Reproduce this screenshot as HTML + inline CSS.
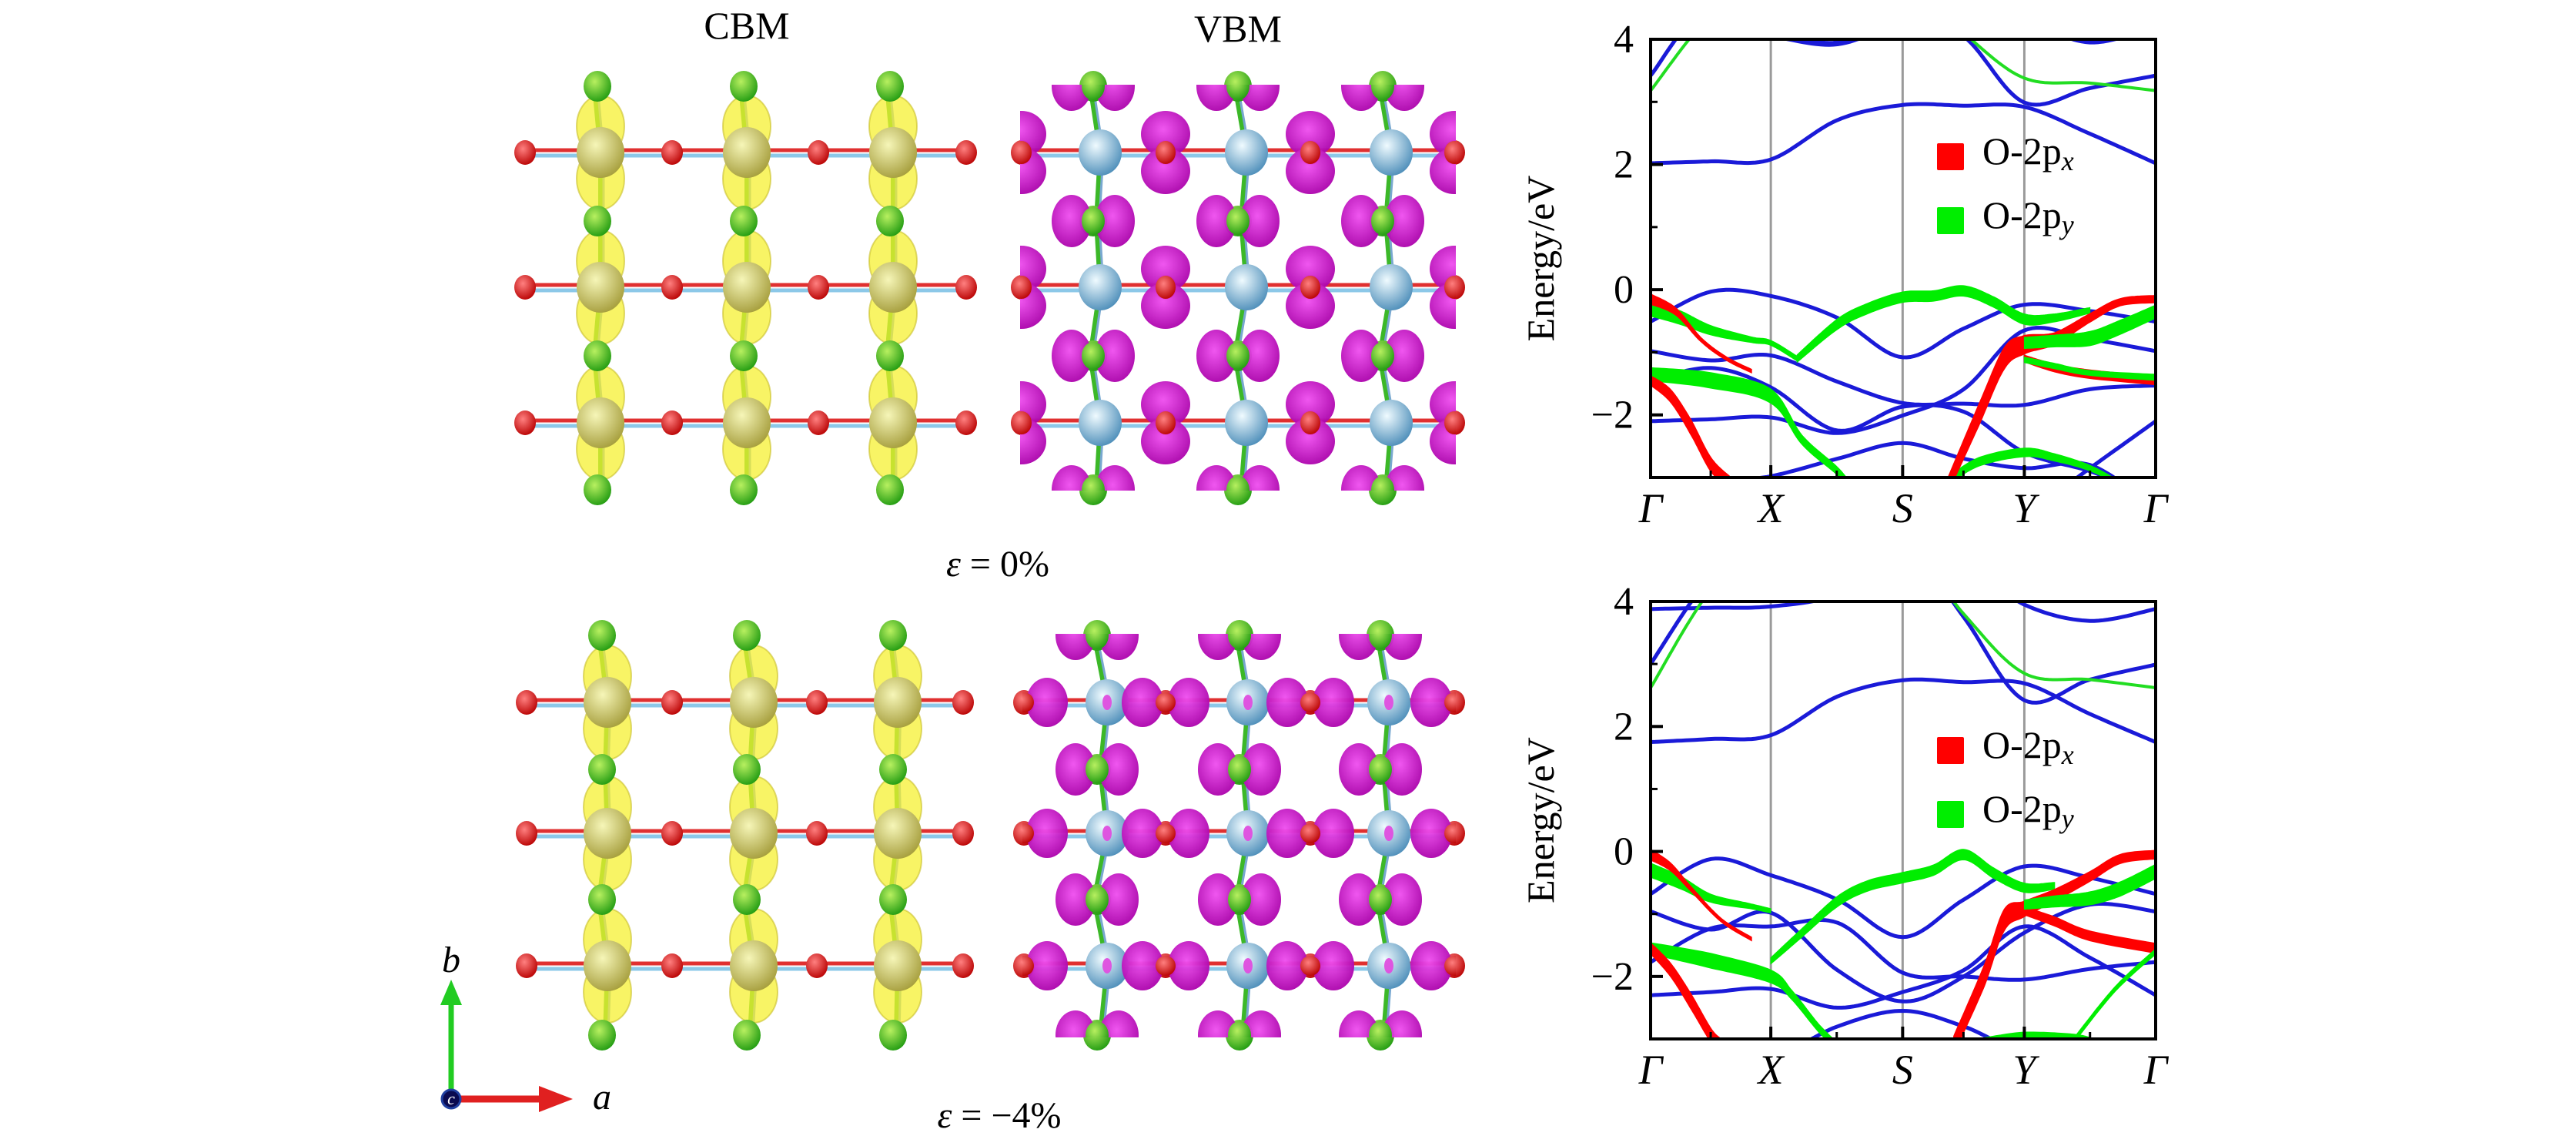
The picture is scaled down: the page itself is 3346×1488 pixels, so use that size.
<!DOCTYPE html>
<html><head><meta charset="utf-8"><title>Band structures and charge densities</title>
<style>
html,body{margin:0;padding:0;background:#fff;}
body{width:3346px;height:1488px;overflow:hidden;}
svg{display:block;}
svg text{font-family:"Liberation Serif","DejaVu Serif",serif !important;fill:#000;}
</style></head>
<body>
<svg id="fig" width="3346" height="1488" viewBox="0 0 3346 1488" xmlns="http://www.w3.org/2000/svg" font-family="Liberation Serif, DejaVu Serif, serif">
<defs>
<radialGradient id="gY" cx="40%" cy="35%" r="70%"><stop offset="0" stop-color="#f6f6b8"/><stop offset="1" stop-color="#a49c3a"/></radialGradient>
<radialGradient id="gG" cx="40%" cy="35%" r="70%"><stop offset="0" stop-color="#b8f060"/><stop offset="1" stop-color="#1e9a10"/></radialGradient>
<radialGradient id="gR" cx="40%" cy="35%" r="70%"><stop offset="0" stop-color="#ff8080"/><stop offset="1" stop-color="#b80000"/></radialGradient>
<radialGradient id="gB" cx="40%" cy="35%" r="70%"><stop offset="0" stop-color="#f0fbff"/><stop offset="1" stop-color="#4a8cb8"/></radialGradient>
<radialGradient id="gM" cx="45%" cy="40%" r="65%"><stop offset="0" stop-color="#f050f0"/><stop offset="1" stop-color="#a800a8"/></radialGradient>
<clipPath id="clipVT"><rect x="1325" y="110" width="566" height="527"/></clipPath>
<clipPath id="clipVB"><rect x="1328" y="823" width="563" height="524"/></clipPath>
<clipPath id="clipP1"><rect x="2144" y="51" width="656" height="569"/></clipPath>
<clipPath id="clipP2"><rect x="2144" y="781" width="656" height="568"/></clipPath>
</defs>
<text x="970" y="50" font-size="50" text-anchor="middle">CBM</text>
<text x="1608" y="54" font-size="50" text-anchor="middle">VBM</text>
<text x="1296" y="748" font-size="48" text-anchor="middle"><tspan font-style="italic">ε</tspan> =  0%</text>
<text x="1298" y="1464" font-size="48" text-anchor="middle"><tspan font-style="italic">ε</tspan> = −4%</text>
<g id="structs"></g>
<g id="triad">
  <line x1="586" y1="1420" x2="586" y2="1300" stroke="#22cc22" stroke-width="7"/>
  <polygon points="572,1305 600,1305 586,1272" fill="#22cc22"/>
  <line x1="592" y1="1427" x2="705" y2="1427" stroke="#e02020" stroke-width="9"/>
  <polygon points="700,1410 700,1444 744,1427" fill="#e02020"/>
  <circle cx="586" cy="1427" r="12" fill="#0a0a50" stroke="#2040a0" stroke-width="3"/>
  <text x="586" y="1434" font-size="22" font-style="italic" text-anchor="middle" style="fill:#fff">c</text>
  <text x="586" y="1262" font-size="48" font-style="italic" text-anchor="middle">b</text>
  <text x="770" y="1440" font-size="48" font-style="italic">a</text>
</g>
<g id="plots"></g>
</svg>
<script>
// ---------------- Band-structure data ----------------
const kLabels = ["Γ","X","S","Y","Γ"];
const kTicks = [0, 0.238, 0.499, 0.740, 1];
const kGrid = [0, 0.12, 0.238, 0.37, 0.499, 0.62, 0.74, 0.87, 1];
const yTicks = [4, 2, 0, -2];
const yTicksMinor = [3, 1, -1];
const legendNames = ["O-2p", "O-2p"];
const legendSubs = ["x", "y"];

// panel 1 (ε = 0%) blue bands, energies (eV) at kGrid
const p1Blue1 = [2.02, 2.05, 2.08, 2.71, 2.95, 2.94, 2.92, 2.49, 2.02];
const p1Blue2 = [3.42, 4.6, 4.2, 3.95, 4.5, 4.05, 2.99, 3.22, 3.42];
const p1Blue3 = [4.6, 4.2, 4.05, 3.92, 4.3, 4.6, 4.3, 3.95, 4.2];
const p1Val1 = [-0.51, -0.03, -0.10, -0.45, -1.08, -0.62, -0.24, -0.34, -0.51];
const p1Val2 = [-0.98, -1.13, -1.05, -1.47, -1.81, -1.82, -1.84, -1.59, -1.53];
const p1Val3 = [-2.1, -2.07, -2.04, -2.29, -2.01, -1.59, -0.65, -0.79, -0.98];
const p1Val4 = [-1.45, -1.25, -1.56, -2.25, -1.87, -1.95, -2.6, -2.9, -3.3];
const p1Val5 = [-3.6, -3.1, -2.98, -2.7, -2.45, -2.7, -2.85, -2.8, -3.5];
const p1Val6 = [-4.0, -3.8, -3.5, -3.6, -3.8, -3.9, -3.6, -2.85, -2.1];
const p1GreenThin = [3.18, 4.4, 5, 5, 5, 4.1, 3.38, 3.3, 3.18];
// thick projected bands: k, E, weight (eV)
const p1RedAk = [0, 0.04, 0.08, 0.12, 0.16];
const p1RedAE = [-1.45, -1.7, -2.2, -2.8, -3.1];
const p1RedAw = [0.1, 0.16, 0.2, 0.18, 0.14];
const p1RedBk = [0, 0.05, 0.1, 0.15, 0.2];
const p1RedBE = [-0.15, -0.35, -0.8, -1.1, -1.3];
const p1RedBw = [0.12, 0.07, 0.02, 0.01, 0.01];
const p1RedCk = [0.59, 0.65, 0.7, 0.74, 0.8, 0.87, 0.93, 1];
const p1RedCE = [-3.1, -2.0, -1.1, -0.88, -0.78, -0.45, -0.2, -0.15];
const p1RedCw = [0.2, 0.3, 0.3, 0.25, 0.14, 0.09, 0.07, 0.07];
const p1RedDk = [0.74, 0.8, 0.87, 1];
const p1RedDE = [-1.1, -1.25, -1.35, -1.45];
const p1RedDw = [0.06, 0.08, 0.09, 0.09];
const p1GrnAk = [0, 0.06, 0.12, 0.2, 0.238, 0.29];
const p1GrnAE = [-0.3, -0.45, -0.65, -0.8, -0.85, -1.1];
const p1GrnAw = [0.2, 0.17, 0.1, 0.04, 0.03, 0.03];
const p1GrnBk = [0.29, 0.37, 0.43, 0.499, 0.56, 0.62, 0.68, 0.74, 0.8, 0.87];
const p1GrnBE = [-1.1, -0.55, -0.3, -0.12, -0.1, -0.02, -0.2, -0.47, -0.45, -0.33];
const p1GrnBw = [0.07, 0.12, 0.12, 0.12, 0.12, 0.12, 0.12, 0.12, 0.08, 0.04];
const p1GrnCk = [0, 0.12, 0.238, 0.3, 0.37, 0.4];
const p1GrnCE = [-1.35, -1.45, -1.7, -2.4, -2.9, -3.2];
const p1GrnCw = [0.16, 0.2, 0.18, 0.1, 0.08, 0.08];
const p1GrnDk = [0.59, 0.65, 0.74, 0.8, 0.87, 0.93];
const p1GrnDE = [-3.05, -2.75, -2.6, -2.68, -2.85, -3.1];
const p1GrnDw = [0.08, 0.09, 0.09, 0.07, 0.04, 0.02];
const p1GrnEk = [0.74, 0.8, 0.87, 0.93, 1];
const p1GrnEE = [-0.85, -0.82, -0.78, -0.6, -0.35];
const p1GrnEw = [0.13, 0.14, 0.18, 0.18, 0.16];
const p1GrnFk = [0.74, 0.8, 0.87, 1];
const p1GrnFE = [-1.12, -1.22, -1.33, -1.4];
const p1GrnFw = [0.04, 0.04, 0.03, 0.05];

// panel 2 (ε = -4%)
const p2Blue1 = [1.75, 1.8, 1.86, 2.48, 2.74, 2.71, 2.69, 2.2, 1.75];
const p2Blue2 = [3.88, 3.9, 3.92, 4.1, 4.6, 4.6, 3.95, 3.69, 3.88];
const p2Blue3 = [3.0, 4.4, 5, 5, 5, 3.75, 2.42, 2.75, 2.99];
const p2Val1 = [-0.68, -0.12, -0.38, -0.77, -1.37, -0.77, -0.24, -0.42, -0.68];
const p2Val2 = [-0.96, -1.25, -0.98, -1.9, -2.4, -2.0, -1.3, -0.85, -0.96];
const p2Val3 = [-1.77, -1.23, -1.2, -1.14, -1.94, -2.0, -2.05, -1.88, -1.77];
const p2Val4 = [-2.3, -2.25, -2.2, -2.5, -2.25, -1.9, -1.2, -1.7, -2.3];
const p2Val5 = [-3.5, -3.2, -3.3, -2.8, -2.55, -2.8, -3.2, -3.1, -3.5];
const p2GreenThin = [2.62, 4.2, 5, 5, 5, 3.8, 2.85, 2.75, 2.62];
const p2RedAk = [0, 0.04, 0.08, 0.12, 0.14];
const p2RedAE = [-1.55, -1.9, -2.4, -2.95, -3.1];
const p2RedAw = [0.13, 0.17, 0.2, 0.18, 0.15];
const p2RedBk = [0, 0.04, 0.08, 0.14, 0.2];
const p2RedBE = [-0.05, -0.25, -0.6, -1.1, -1.4];
const p2RedBw = [0.13, 0.08, 0.03, 0.01, 0.01];
const p2RedCk = [0.6, 0.66, 0.7, 0.74, 0.8, 0.87, 0.93, 1];
const p2RedCE = [-3.1, -2.0, -1.1, -0.92, -0.7, -0.4, -0.12, -0.05];
const p2RedCw = [0.24, 0.3, 0.3, 0.2, 0.14, 0.11, 0.1, 0.09];
const p2RedDk = [0.74, 0.8, 0.87, 1];
const p2RedDE = [-0.95, -1.12, -1.35, -1.55];
const p2RedDw = [0.08, 0.1, 0.11, 0.11];
const p2GrnAk = [0, 0.06, 0.12, 0.2, 0.238];
const p2GrnAE = [-0.3, -0.5, -0.75, -0.88, -0.95];
const p2GrnAw = [0.18, 0.16, 0.08, 0.03, 0.02];
const p2GrnBk = [0.238, 0.3, 0.37, 0.43, 0.499, 0.56, 0.62, 0.68, 0.74, 0.8];
const p2GrnBE = [-1.75, -1.3, -0.8, -0.55, -0.42, -0.3, -0.05, -0.35, -0.58, -0.55];
const p2GrnBw = [0.05, 0.09, 0.12, 0.12, 0.12, 0.12, 0.12, 0.12, 0.1, 0.06];
const p2GrnCk = [0, 0.12, 0.238, 0.28, 0.33, 0.36];
const p2GrnCE = [-1.55, -1.75, -2.0, -2.3, -2.8, -3.05];
const p2GrnCw = [0.13, 0.19, 0.16, 0.1, 0.08, 0.08];
const p2GrnDk = [0.66, 0.74, 0.84, 0.88];
const p2GrnDE = [-3.05, -2.96, -2.98, -3.05];
const p2GrnDw = [0.09, 0.09, 0.06, 0.04];
const p2GrnEk = [0.74, 0.8, 0.87, 0.93, 1];
const p2GrnEE = [-0.85, -0.8, -0.75, -0.6, -0.32];
const p2GrnEw = [0.1, 0.13, 0.16, 0.18, 0.18];
const p2GrnFk = [0.84, 0.92, 1];
const p2GrnFE = [-3.0, -2.2, -1.6];
const p2GrnFw = [0.03, 0.03, 0.04];

const NS = "http://www.w3.org/2000/svg";
function mk(tag, attrs, parent){
  const e = document.createElementNS(NS, tag);
  for (const k in attrs) e.setAttribute(k, attrs[k]);
  if (parent) parent.appendChild(e);
  return e;
}

function sampleCurve(pts, n){
  const out = [];
  for (let i = 0; i < pts.length - 1; i++){
    const p0 = pts[Math.max(0, i-1)], p1 = pts[i], p2 = pts[i+1], p3 = pts[Math.min(pts.length-1, i+2)];
    for (let s = 0; s < n; s++){
      const t = s / n, t2 = t*t, t3 = t2*t;
      const f = (a,b,c,d) => 0.5*((2*b) + (-a + c)*t + (2*a - 5*b + 4*c - d)*t2 + (-a + 3*b - 3*c + d)*t3);
      out.push([f(p0[0],p1[0],p2[0],p3[0]), f(p0[1],p1[1],p2[1],p3[1]), p1[2] + (p2[2]-p1[2])*t]);
    }
  }
  const L = pts[pts.length-1]; out.push([L[0], L[1], L[2]]);
  return out;
}

function makePanel(cfg){
  const g = mk("g", {}, document.getElementById("plots"));
  
  
  const x0 = 2144, x1 = 2800, y0 = cfg.top, y1 = cfg.bottom;
  const Emin = -3, Emax = 4;
  const xs = k => x0 + k * (x1 - x0);
  const ys = E => y0 + (Emax - E) / (Emax - Emin) * (y1 - y0);
  const pxPerE = (y1 - y0) / (Emax - Emin);

  for (let i = 1; i < kTicks.length - 1; i++){
    const l = mk("line", {x1: xs(kTicks[i]), x2: xs(kTicks[i]), y1: y0, y2: y1, stroke: "#9a9a9a", "stroke-width": 3}, g);
    
    
  }
  const data = mk("g", {"clip-path": "url(#" + cfg.clip + ")"}, g);
  
  

  function line(E, color, w, nm){
    const pts = sampleCurve(kGrid.map((k,i)=>[xs(k), ys(E[i]), 0]), 16);
    const p = mk("path", {d: "M" + pts.map(q => q[0].toFixed(1) + "," + q[1].toFixed(1)).join("L"), fill: "none", stroke: color, "stroke-width": w, "stroke-linejoin": "round"}, data);
    
    
  }
  function ribbon(ks, Es, ws, color, nm){
    const pts = sampleCurve(ks.map((k,i)=>[xs(k), ys(Es[i]), ws[i]*pxPerE]), 16);
    const top = pts.map(q => [q[0], q[1] - q[2]/2 - 2]);
    const bot = pts.map(q => [q[0], q[1] + q[2]/2 + 2]).reverse();
    const all = top.concat(bot);
    const p = mk("path", {d: "M" + all.map(q => q[0].toFixed(1) + "," + q[1].toFixed(1)).join("L") + "Z", fill: color, stroke: color, "stroke-width": 1}, data);
    
    
  }
  cfg.blue.forEach((E, i) => line(E, "#1a1ad8", 5, "band-" + (i+1)));
  line(cfg.greenThin, "#22dd22", 4, "band-py-conduction");
  cfg.ribbons.forEach((r, i) => ribbon(r[0], r[1], r[2], r[3], (r[3] === "#ff0000" ? "band-px-" : "band-py-") + (i+1)));

  const fr = mk("rect", {x: x0, y: y0, width: x1-x0, height: y1-y0, fill: "none", stroke: "#000", "stroke-width": 4}, g);
  
  
  yTicks.forEach(v => {
    const t = mk("line", {x1: x0, x2: x0 + 16, y1: ys(v), y2: ys(v), stroke: "#000", "stroke-width": 4}, g);
    
    
    const lb = mk("text", {x: x0 - 22, y: ys(v) + 17, "font-size": 52, "text-anchor": "end"}, g);
    lb.textContent = v < 0 ? "−" + Math.abs(v) : String(v);
    
    
  });
  yTicksMinor.forEach(v => {
    const t = mk("line", {x1: x0, x2: x0 + 9, y1: ys(v), y2: ys(v), stroke: "#000", "stroke-width": 3}, g);
    
    
  });
  kTicks.forEach((k, i) => {
    const t = mk("line", {x1: xs(k), x2: xs(k), y1: y1, y2: y1 - 16, stroke: "#000", "stroke-width": 4}, g);
    
    
    const lb = mk("text", {x: xs(k), y: y1 + 58, "font-size": 54, "font-style": "italic", "text-anchor": "middle"}, g);
    lb.textContent = kLabels[i];
    
    
  });
  for (let i = 0; i < kTicks.length - 1; i++){
    const m = (kTicks[i] + kTicks[i+1]) / 2;
    const t = mk("line", {x1: xs(m), x2: xs(m), y1: y1, y2: y1 - 9, stroke: "#000", "stroke-width": 3}, g);
    
    
  }
  const cy = (y0 + y1) / 2;
  const at = mk("text", {x: 2018, y: cy, "font-size": 50, "text-anchor": "middle", transform: "rotate(-90 2018 " + cy + ")"}, g);
  at.textContent = "Energy/eV";
  
  
  ["#ff0000", "#00ee00"].forEach((c, i) => {
    const ly = cfg.legendY + i * 83;
    const sw = mk("rect", {x: 2516, y: ly, width: 35, height: 35, fill: c, rx: 2}, g);
    
    
    const tx = mk("text", {x: 2575, y: ly + 27, "font-size": 50}, g);
    
    
    tx.textContent = legendNames[i];
    const sub = mk("tspan", {"font-style": "italic", "font-size": 36, dy: 8}, tx);
    sub.textContent = legendSubs[i];
  });
}

makePanel({name: "band-plot-0pct", top: 51, bottom: 620, clip: "clipP1", legendY: 186,
  blue: [p1Blue1, p1Blue2, p1Blue3, p1Val1, p1Val2, p1Val3, p1Val4, p1Val5, p1Val6],
  greenThin: p1GreenThin,
  ribbons: [[p1GrnAk,p1GrnAE,p1GrnAw,"#00ee00"],[p1GrnBk,p1GrnBE,p1GrnBw,"#00ee00"],[p1GrnCk,p1GrnCE,p1GrnCw,"#00ee00"],
    [p1GrnDk,p1GrnDE,p1GrnDw,"#00ee00"],
    [p1RedAk,p1RedAE,p1RedAw,"#ff0000"],[p1RedBk,p1RedBE,p1RedBw,"#ff0000"],[p1RedCk,p1RedCE,p1RedCw,"#ff0000"],[p1RedDk,p1RedDE,p1RedDw,"#ff0000"],
    [p1GrnEk,p1GrnEE,p1GrnEw,"#00ee00"],[p1GrnFk,p1GrnFE,p1GrnFw,"#00ee00"]]});
makePanel({name: "band-plot-minus4pct", top: 781, bottom: 1349, clip: "clipP2", legendY: 957,
  blue: [p2Blue1, p2Blue2, p2Blue3, p2Val1, p2Val2, p2Val3, p2Val4, p2Val5],
  greenThin: p2GreenThin,
  ribbons: [[p2GrnAk,p2GrnAE,p2GrnAw,"#00ee00"],[p2GrnBk,p2GrnBE,p2GrnBw,"#00ee00"],[p2GrnCk,p2GrnCE,p2GrnCw,"#00ee00"],
    [p2GrnDk,p2GrnDE,p2GrnDw,"#00ee00"],
    [p2RedAk,p2RedAE,p2RedAw,"#ff0000"],[p2RedBk,p2RedBE,p2RedBw,"#ff0000"],[p2RedCk,p2RedCE,p2RedCw,"#ff0000"],[p2RedDk,p2RedDE,p2RedDw,"#ff0000"],
    [p2GrnEk,p2GrnEE,p2GrnEw,"#00ee00"],[p2GrnFk,p2GrnFE,p2GrnFw,"#00ee00"]]});

// ---------------- Crystal structure images ----------------
function struct(opt){
  const root = document.getElementById("structs");
  const g = mk("g", {}, root);
  
  
  const rows = opt.rows, greens = opt.greens, cols = opt.cols, os = opt.os, gx = opt.gx;
  rows.forEach(ry => {
    mk("line", {x1: os[0], x2: os[os.length-1], y1: ry-3, y2: ry-3, stroke: "#e03030", "stroke-width": 5}, g);
    mk("line", {x1: os[0], x2: os[os.length-1], y1: ry+4, y2: ry+4, stroke: "#8cc8e8", "stroke-width": 5}, g);
  });
  cols.forEach((cx, ci) => {
    const pts = [];
    greens.forEach((gy, j) => { pts.push([gx[ci] + (j % 2 ? 4 : -4), gy]); if (j < rows.length) pts.push([cx, rows[j]]); });
    mk("polyline", {points: pts.map(p => p.join(",")).join(" "), fill: "none", stroke: "#3cb828", "stroke-width": 6}, g);
    mk("polyline", {points: pts.map(p => (p[0]+4) + "," + p[1]).join(" "), fill: "none", stroke: "#78a8d0", "stroke-width": 3}, g);
  });
  if (opt.type === "cbm"){
    cols.forEach(cx => rows.forEach(ry => {
      mk("ellipse", {cx: cx, cy: ry - 34, rx: 31, ry: 40, fill: "rgba(246,240,50,0.75)", stroke: "rgba(200,190,40,0.6)", "stroke-width": 2}, g);
      mk("ellipse", {cx: cx, cy: ry + 34, rx: 31, ry: 40, fill: "rgba(246,240,50,0.75)", stroke: "rgba(200,190,40,0.6)", "stroke-width": 2}, g);
    }));
  }
  rows.forEach(ry => os.forEach(ox => mk("ellipse", {cx: ox, cy: ry, rx: 14, ry: 16, fill: "url(#gR)"}, g)));
  cols.forEach(cx => rows.forEach(ry => mk("ellipse", {cx: cx, cy: ry, rx: opt.type === "cbm" ? 31 : 28, ry: opt.type === "cbm" ? 33 : 30, fill: opt.type === "cbm" ? "url(#gY)" : "url(#gB)"}, g)));
  greens.forEach(gy => gx.forEach(x => mk("ellipse", {cx: x, cy: gy, rx: 18, ry: 20, fill: "url(#gG)"}, g)));
  if (opt.type === "vbm"){
    const m = mk("g", {"clip-path": "url(#" + opt.clip + ")", opacity: 0.96}, g);
    rows.forEach(ry => os.forEach(ox => {
      if (opt.strained){
        mk("ellipse", {cx: ox - 30, cy: ry, rx: 27, ry: 32, fill: "url(#gM)"}, m);
        mk("ellipse", {cx: ox + 30, cy: ry, rx: 27, ry: 32, fill: "url(#gM)"}, m);
        mk("circle", {cx: ox, cy: ry, r: 13, fill: "url(#gR)"}, m);
      } else {
        mk("ellipse", {cx: ox, cy: ry - 24, rx: 32, ry: 30, fill: "url(#gM)"}, m);
        mk("ellipse", {cx: ox, cy: ry + 24, rx: 32, ry: 30, fill: "url(#gM)"}, m);
        mk("ellipse", {cx: ox, cy: ry, rx: 13, ry: 15, fill: "url(#gR)"}, m);
      }
    }));
    if (opt.strained) cols.forEach(cx => rows.forEach(ry => mk("ellipse", {cx: cx, cy: ry, rx: 6, ry: 10, fill: "#e050e0"}, m)));
    greens.forEach((gy, j) => gx.forEach(x => {
      mk("ellipse", {cx: x - 28, cy: gy, rx: 26, ry: (j === 0 || j === greens.length - 1) ? 32 : 34, fill: "url(#gM)"}, m);
      mk("ellipse", {cx: x + 28, cy: gy, rx: 26, ry: (j === 0 || j === greens.length - 1) ? 32 : 34, fill: "url(#gM)"}, m);
      mk("ellipse", {cx: x, cy: gy, rx: 15, ry: 18, fill: "url(#gG)"}, m);
    }));
  }
}
struct({name: "cbm-structure-0pct", type: "cbm", rows: [198,373,549], greens: [112,287,462,636], cols: [780,970,1160], gx: [776,966,1156], os: [682,873,1063,1255]});
struct({name: "vbm-structure-0pct", type: "vbm", clip: "clipVT", rows: [198,373,549], greens: [112,287,462,636], cols: [1429,1619,1807], gx: [1420,1608,1796], os: [1327,1514,1702,1889]});
struct({name: "cbm-structure-minus4pct", type: "cbm", rows: [912,1082,1254], greens: [825,999,1168,1344], cols: [789,979,1166], gx: [782,970,1160], os: [684,873,1061,1251]});
struct({name: "vbm-structure-minus4pct", type: "vbm", strained: true, clip: "clipVB", rows: [912,1082,1254], greens: [825,999,1168,1344], cols: [1438,1621,1804], gx: [1425,1610,1793], os: [1330,1514,1702,1889]});
</script>
</body></html>
